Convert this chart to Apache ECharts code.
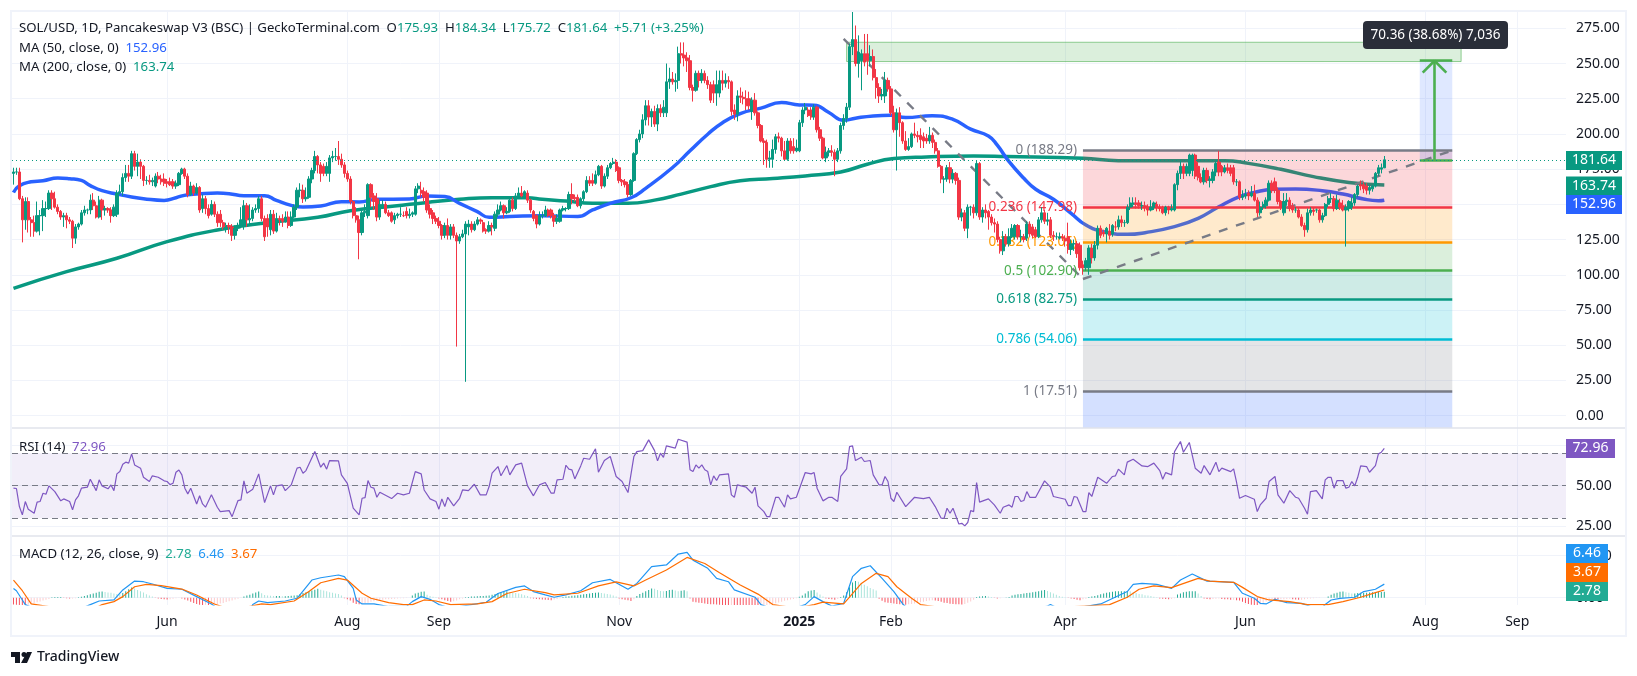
<!DOCTYPE html>
<html>
<head>
<meta charset="utf-8">
<title>SOL/USD</title>
<script src="https://cdn.jsdelivr.net/npm/echarts@6/dist/echarts.min.js"></script>
<style>
	html, body { margin: 0; padding: 0; background: #fff; }
	#chart { width: 1637px; height: 676px; }
</style>
</head>
<body>
<div id="chart"></div>
<script>
const FONT = '"Noto Sans", sans-serif'

// 日线，从 2024-04-10 开始，每行 10 根
const opens = [
	172,173,173,154,139,152,139,137,131,142,
	142,147,147,158,154,148,145,141,142,139,
	138,126,134,136,144,146,146,153,149,141,
	153,146,147,146,142,143,158,159,169,172,
	170,186,177,180,177,167,167,166,163,170,
	168,168,166,166,166,163,164,172,175,170,
	157,163,158,162,147,154,147,143,150,143,
	143,137,133,135,134,128,133,135,135,149,
	139,140,146,147,154,140,140,132,143,131,
	140,140,138,141,135,141,148,160,160,154,
	155,168,174,184,178,177,172,172,183,184,
	184,182,178,172,168,152,142,139,130,144,
	142,164,156,154,141,148,150,144,144,139,
	142,143,142,145,142,143,143,161,160,159,
	158,147,144,140,138,135,128,135,128,134,
	128,124,127,129,134,136,132,136,139,137,
	132,131,135,133,143,146,149,144,145,153,
	147,156,158,156,158,153,145,142,136,142,
	142,146,146,142,138,138,146,147,147,157,
	155,155,149,154,159,167,167,165,171,177,
	163,170,176,179,180,176,167,166,164,157,
	167,186,196,200,210,220,212,216,207,218,
	215,215,237,239,237,238,257,256,254,252,
	233,231,243,238,243,238,235,235,229,229,
	238,236,238,237,217,214,227,226,225,225,
	216,224,215,206,195,194,182,182,189,198,
	197,188,182,195,191,188,188,208,217,217,
	217,212,219,203,197,183,187,188,187,182,
	188,206,211,219,262,267,250,252,257,257,
	252,255,240,233,227,227,238,232,215,203,
	215,208,195,189,191,200,199,199,198,197,
	195,199,194,188,177,168,168,176,168,172,
	167,141,144,133,148,148,144,179,141,146,
	145,141,137,136,125,117,127,122,127,127,
	135,127,127,126,136,134,132,127,139,144,
	138,139,128,127,126,127,126,127,118,122,
	122,121,107,105,105,119,112,121,133,130,
	129,131,129,134,134,139,137,137,148,150,
	151,151,149,149,148,146,148,150,148,147,
	144,148,146,146,164,172,177,172,172,174,
	185,177,169,166,174,167,167,173,180,177,
	173,176,176,176,166,166,155,156,158,156,
	158,153,144,148,149,153,165,166,160,152,
	144,152,153,149,146,146,141,135,132,144,
	146,146,146,139,142,150,154,154,147,151,
	149,146,147,148,151,157,164,164,163,160,
	161,163,172,175,175.93
]
const closes = [
	173,173,154,139,152,139,137,131,142,142,
	147,147,158,154,148,145,141,142,139,138,
	126,134,136,144,146,146,153,149,141,153,
	146,147,146,142,148,158,159,169,172,170,
	186,177,180,177,167,167,166,167,170,168,
	166,165,165,164,163,165,172,175,170,157,
	163,158,162,146,154,147,142,150,143,137,
	137,134,135,134,128,133,135,139,149,139,
	140,146,147,154,140,127,134,143,131,140,
	139,138,141,135,141,148,160,160,154,155,
	168,174,184,178,172,172,177,183,184,184,
	182,178,172,168,152,142,139,130,144,145,
	164,155,152,141,150,150,144,142,138,142,
	143,143,142,142,143,144,161,163,158,155,
	146,143,140,138,135,128,135,128,134,128,
	124,127,129,136,136,132,136,139,138,131,
	131,135,134,143,146,149,144,145,153,147,
	156,158,156,159,153,146,140,136,142,142,
	146,142,142,138,140,146,147,147,157,154,
	154,149,154,159,167,165,165,171,177,163,
	170,176,179,180,174,167,166,164,157,167,
	186,196,200,210,220,212,216,207,218,215,
	219,237,239,237,238,257,256,254,252,233,
	231,243,238,243,238,235,224,229,235,238,
	236,238,237,216,214,227,226,225,220,220,
	224,215,206,195,194,182,183,189,198,197,
	188,182,195,188,188,190,208,217,219,213,
	212,219,203,197,183,187,188,187,182,188,
	206,211,219,262,267,250,258,257,251,252,
	255,240,233,227,228,238,232,215,203,215,
	208,195,189,191,200,199,198,196,195,195,
	199,194,188,177,168,168,176,168,172,167,
	141,144,133,148,148,144,179,141,146,144,
	141,137,136,125,117,127,122,127,133,135,
	127,127,125,136,129,128,127,139,144,138,
	139,128,127,127,127,126,124,118,122,122,
	115,105,105,110,119,112,121,133,128,129,
	133,128,135,134,139,137,137,148,151,151,
	150,149,149,148,146,148,151,148,147,144,
	148,146,147,164,172,177,172,177,185,185,
	170,169,166,174,167,168,173,179,173,173,
	176,174,172,166,166,155,156,157,156,158,
	153,144,148,150,153,165,160,160,152,148,
	152,153,147,146,146,141,135,132,144,146,
	145,146,139,142,150,154,154,147,153,148,
	146,148,152,151,157,163,163,161,160,162,
	163,172,176,176,181.64
]
const lows = [
	164,171,153,123,132,130,127,127,130,128,
	131,141,146,146,147,143,139,134,133,136,
	119,122,132,135,142,143,143,146,140,140,
	139,142,144,137,141,141,157,156,166,166,
	168,174,170,168,163,164,164,163,162,165,
	164,163,162,163,161,161,163,171,168,155,
	156,156,157,144,144,143,140,142,141,134,
	134,132,130,129,124,125,131,133,132,134,
	135,138,144,144,138,124,127,128,129,130,
	135,134,137,133,134,140,146,155,151,152,
	154,165,172,172,166,170,170,166,180,181,
	178,176,169,166,150,140,137,111,128,141,
	140,148,146,138,139,147,143,141,137,136,
	140,141,141,140,140,141,142,158,155,152,
	144,140,136,136,133,125,126,125,125,126,
	49,122,126,24,128,130,131,135,136,130,
	129,130,128,131,141,145,140,143,144,145,
	146,155,155,155,151,144,138,133,135,140,
	141,141,140,134,136,137,145,145,146,150,
	152,148,147,152,158,163,163,164,170,161,
	162,168,175,178,173,165,163,162,155,156,
	166,185,194,197,206,206,205,205,202,212,
	212,212,232,235,230,232,250,248,244,231,
	223,230,233,236,236,232,222,222,220,226,
	231,233,232,213,210,209,222,221,217,217,
	210,213,204,194,178,176,176,176,186,194,
	184,181,181,186,186,187,187,205,214,212,
	210,210,201,195,182,180,184,184,170,180,
	186,203,208,217,256,248,240,231,248,242,
	248,238,225,222,224,222,230,213,201,174,
	198,193,188,188,190,197,194,190,190,193,
	193,190,186,176,165,158,166,165,165,164,
	139,138,131,126,142,140,142,139,137,140,
	132,135,130,123,115,114,120,120,126,125,
	125,123,123,124,127,126,126,126,137,136,
	135,126,124,125,125,124,120,115,114,117,
	112,103,100,103,100,108,110,118,126,127,
	123,125,127,131,132,134,134,136,146,148,
	147,147,146,145,142,145,146,145,145,143,
	142,143,145,145,160,168,168,170,170,170,
	168,167,165,164,165,162,165,170,170,170,
	172,172,170,164,163,153,153,154,153,155,
	152,141,142,146,147,152,158,158,150,146,
	142,149,145,144,144,140,134,127,130,142,
	142,144,137,137,141,148,151,145,146,146,
	145,120,145,146,149,155,160,158,157,157,
	159,162,170,172,175.72
]
const highs = [
	176,176,176,156,155,155,141,142,152,146,
	153,152,160,160,159,150,146,144,144,141,
	139,136,137,146,149,147,157,158,152,156,
	154,149,148,148,150,160,164,172,178,178,
	188,188,186,182,178,170,171,169,172,173,
	171,172,168,169,168,167,173,176,176,172,
	166,164,165,163,157,156,150,153,152,145,
	146,139,137,137,136,135,137,148,153,151,
	150,148,150,156,156,142,143,146,146,144,
	142,143,145,145,145,150,162,165,164,162,
	170,176,188,185,180,179,180,185,188,190,
	195,186,180,174,170,153,148,142,146,150,
	165,165,158,158,153,153,152,146,145,144,
	144,148,145,148,147,145,163,165,166,162,
	160,150,146,142,141,136,137,140,136,136,
	130,129,132,138,139,138,138,141,140,139,
	133,138,137,145,150,152,150,148,155,155,
	158,162,163,160,160,154,146,143,145,145,
	149,147,147,144,143,147,149,148,159,165,
	157,157,155,160,170,170,172,174,178,178,
	172,178,180,183,182,177,168,168,166,168,
	187,197,203,214,224,224,218,220,221,221,
	224,250,247,244,243,262,265,265,258,256,
	235,245,245,246,245,241,237,238,245,245,
	245,243,241,238,221,231,233,230,231,230,
	226,229,216,207,197,196,188,196,200,201,
	198,195,197,197,197,196,210,219,222,219,
	219,221,220,205,198,191,190,192,189,190,
	208,214,222,264,287,277,270,260,271,271,
	263,260,246,236,232,244,240,234,220,218,
	219,209,202,197,201,208,202,204,201,200,
	205,201,196,190,178,170,178,180,175,173,
	169,147,146,150,149,150,181,180,148,150,
	146,143,140,138,127,131,129,133,136,136,
	136,132,129,138,138,136,134,141,148,146,
	144,141,131,130,130,129,128,137,125,125,
	124,123,110,112,121,122,124,135,135,132,
	134,136,136,138,142,142,139,150,155,155,
	155,153,152,152,150,153,152,152,150,149,
	149,149,150,165,174,181,179,179,186,186,
	186,180,172,176,176,170,175,181,188,178,
	178,179,178,178,168,167,160,161,160,163,
	164,155,152,152,155,167,167,169,162,153,
	158,158,155,151,148,148,143,137,147,148,
	148,147,147,144,151,156,158,156,157,154,
	153,150,153,155,158,164,167,166,165,164,
	164,173,178,179,184.34
]

// 折线都是 [日序号, 数值]
const ma50 = [
	[0,158.5],[2,163.3],[6,166],[10,166.8],[15,168.7],[19,168.2],[23,167],[26,163.3],[30,159.7],[35,157.3],
	[40,155.2],[44,154],[51,152.8],[55,154.7],[59,156.9],[62,157.3],[69,158],[73,157.6],[78,156.2],[85,156.2],
	[89,152.8],[94,149.3],[98,148.1],[104,148.8],[111,151.9],[117,151.7],[123,153.6],[134,153.8],[140,156],[146,155.5],
	[151,150.7],[157,144.8],[161,140.8],[168,141.3],[179,142],[191,141.3],[196,146],[202,150.7],[209,154.7],[214,161.4],
	[223,176],[229,188],[235,199.8],[240,208],[246,214.5],[253,218.3],[260,222.3],[266,220.6],[271,220.4],[276,215.2],
	[281,209.7],[285,211.2],[291,212.8],[297,213.3],[302,211.6],[311,213],[318,210.4],[324,203.4],[330,198.6],[333,192],
	[337,180.3],[342,168.5],[346,160.7],[352,153.6],[358,143.6],[363,135.3],[369,130.6],[377,128.7],[383,129.9],[393,134.2],
	[401,140.1],[408,148.3],[415,155.5],[420,158.5],[427,160.7],[434,160.9],[443,159.7],[450,157.3],[457,153.8],[462,152.6],[464,152.96]
]
const ma200 = [
	[0,90.4],[18,102.2],[35,111.7],[52,123.5],[69,131.8],[86,137],[103,140.8],[114,145.5],[129,148.8],[140,151.4],
	[151,153.6],[162,154.7],[174,154.7],[179,153.6],[187,152.4],[196,150.7],[208,150.7],[217,153],[226,157.3],[236,162.6],
	[246,166.7],[257,168.3],[268,170.2],[280,173],[289,178.5],[298,182.5],[309,183.7],[325,184.4],[336,184],[362,182.7],
	[374,181],[389,181],[410,181],[418,179.1],[429,174.9],[440,169.7],[452,165.6],[464,163.74]
]
const rsi = [
	[0,48.5],[1,48.3],[2,37.2],[3,32.1],[4,40.3],[5,35.6],[7,33.1],[8,39.9],[9,40.3],[10,45.4],[11,44.8],[12,49.9],[14,46.4],[16,40.7],[17,41.9],[19,40.3],
	[20,35.2],[21,41.3],[22,43.8],[23,48.5],[25,49.1],[26,54],[28,47],[29,53.6],[30,49.9],[32,48.1],[33,50.5],[34,47],[35,57.3],[36,58.7],[37,63.2],[38,64.5],
	[39,63.9],[40,69.6],[41,62.8],[43,60.8],[44,55.2],[46,52.6],[47,56.1],[49,55.2],[51,53],[52,52.6],[53,50.7],[54,51.5],[55,58.3],[56,59.7],[57,56.7],[58,48.5],
	[59,45],[60,48.5],[62,38.8],[63,43.8],[64,38.8],[65,36.8],[67,44.4],[69,36.8],[70,34.1],[73,34.7],[74,31],[76,40.9],[77,41.3],[78,53],[79,45.4],[81,47.9],
	[83,57.3],[84,48.5],[85,39.6],[87,49.9],[88,44.4],[89,49.9],[91,50.5],[92,47],[94,50.5],[96,60.8],[97,61.4],[98,57.7],[99,59.3],[102,71],[104,61.4],[105,63.9],
	[106,60.2],[107,65.5],[110,65.3],[111,56.7],[113,51.5],[115,36.2],[117,32.1],[118,42.3],[119,42.7],[120,53.2],[121,49.1],[122,48.5],[123,42.9],[124,46],[128,42.1],[130,45.4],
	[132,44.4],[134,45.4],[136,58.7],[138,57.3],[139,47.4],[141,41.9],[143,40.3],[144,35.6],[145,41.9],[146,37.2],[147,42.9],[149,37.6],[151,42.3],[152,47.4],[154,47],[156,50.9],
	[158,44.4],[160,44.4],[161,49.5],[162,57.7],[164,61.8],[165,56.1],[167,62.4],[168,56.7],[170,62.8],[172,63.9],[174,49.9],[176,43.8],[178,50.5],[180,52],[182,45.4],[183,45.4],
	[184,53.6],[186,54],[187,62.6],[188,60.2],[189,59.8],[190,54.2],[192,62.2],[193,66.9],[195,66.3],[197,72.7],[198,58.3],[200,65.5],[202,68],[204,55.7],[206,52.6],[208,45.8],
	[210,68],[211,71],[213,71.6],[215,78.2],[217,71.6],[218,65.3],[219,70],[220,67.5],[221,74.5],[224,73.1],[225,78.6],[228,76.8],[229,59.8],[230,58.7],[231,62.8],[232,60.8],
	[233,62.8],[234,59.8],[235,58.7],[236,50.5],[237,56.1],[238,53.2],[239,56.7],[242,57.3],[243,44.4],[244,42.9],[245,50.5],[248,49.1],[250,45.4],[251,49.1],[252,37.6],[254,34.1],
	[255,31],[256,31],[258,42.9],[259,42.9],[261,36.8],[262,44.4],[263,41.9],[265,42.9],[268,58.1],[270,57.3],[271,58.1],[272,48.5],[274,40.7],[276,42.9],[277,42.9],[279,40.3],
	[280,55.7],[282,60.4],[283,74.1],[284,74.5],[285,65.5],[287,67.5],[288,64.9],[290,65.5],[291,56.7],[293,50.5],[294,50.5],[295,55.7],[296,52.6],[297,42.3],[298,40.3],[299,46],
	[302,37.2],[305,42.9],[308,42.1],[310,42.9],[312,37.2],[314,30],[315,30],[316,36.2],[317,33.1],[318,36.2],[320,26.5],[321,26.9],[322,25.3],[323,27.4],[324,34.7],[325,34.1],
	[326,52],[327,39.9],[330,41.9],[332,38.2],[334,33.1],[335,36.8],[337,38.2],[338,36.8],[339,43.4],[340,43.4],[341,40.3],[342,40.9],[343,46.4],[344,42.9],[346,42.9],[349,53],
	[351,49.1],[352,43.4],[356,41.7],[357,37.8],[358,37.8],[359,43.4],[360,42.9],[362,34.1],[363,34.1],[364,45.8],[365,43.4],[367,55.2],[370,51.5],[372,55.7],[373,56.1],[374,60.2],
	[376,56.7],[377,64.5],[379,66.3],[382,62.2],[384,61.8],[386,63.9],[388,59.3],[389,54],[390,58.1],[392,56.7],[393,71],[395,77.2],[396,70.6],[398,76.6],[400,60.8],[402,57.7],
	[403,62.4],[405,56.7],[407,64.5],[408,58.7],[409,60.8],[412,58.7],[413,60.4],[414,52],[415,42.3],[417,44],[420,41.7],[421,34.1],[422,38.2],[424,42.3],[425,52.6],[427,55.7],
	[428,44.4],[430,39.3],[432,47],[434,42.9],[435,42.3],[437,36.2],[438,32.5],[439,46.4],[441,47],[443,41.9],[444,53.6],[445,55.2],[446,55.2],[447,48.5],[448,53.2],[450,53.2],
	[451,48.5],[452,49.1],[453,52.6],[454,49.9],[455,55.2],[456,62.2],[458,61.8],[459,58.3],[461,62.4],[462,69.6],[463,70.6],[464,72.96]
]
const macdLine = [
	[0,4.4],[1,3.3],[3,-1.1],[4,-3.3],[15,-10],[26,-3.3],[29,-1.6],[34,-1.1],[37,3.7],[41,7.9],[44,7.6],[47,6.5],[52,4.4],[57,4],[62,0.5],[67,-3],[70,-5.9],[80,-5.9],
	[81,-3.3],[83,-1.6],[86,-2.4],[92,-1.6],[96,-0.3],[101,8.4],[104,9.5],[110,10.8],[112,10],[115,4.4],[116,-1.1],[118,-3],[122,-3],[127,-4.2],[133,-4.2],[135,-1.9],[138,0.5],[141,-0.8],
	[144,-3.3],[148,-5],[155,-3.3],[160,-2.2],[164,2],[170,4.9],[173,5.6],[176,2.9],[180,1.3],[183,0.2],[187,1.3],[192,3.3],[196,7.1],[202,8.7],[208,4],[211,6.8],[216,14.8],[221,15.6],
	[225,20.8],[228,21.6],[230,17.9],[235,14],[238,9.2],[242,7.6],[244,3.7],[251,0.2],[253,-3.3],[260,-7],[268,-3.3],[271,0.5],[274,-1.9],[277,-4],[281,-2.7],[284,10],[287,14],[290,15.2],
	[294,9.2],[298,2.9],[301,-3],[304,-7],[310,-9],[330,-11],[350,-4],[351,-3.3],[355,-6],[368,-3],[377,2.9],[379,6.3],[382,6.8],[387,6.3],[392,4.4],[395,8.4],[399,11.3],[404,7.9],
	[413,7.3],[416,2.1],[420,-0.3],[422,-2.7],[424,-3],[427,-0.8],[431,-2.4],[436,-2.7],[438,-3.7],[442,-5.9],[444,-3.3],[446,-1.1],[449,-0.3],[454,0.2],[457,2.9],[461,4],[464,6.46]
]
const macdSignal = [
	[0,8.4],[3,3.3],[6,-3],[25,-7],[30,-3.3],[34,-1.9],[37,0.5],[41,5.2],[45,6.3],[50,5.7],[57,4.1],[62,1.3],[68,-3],[74,-5.9],[84,-3],[87,-3.3],[95,-1.6],[100,2.9],
	[104,7.1],[110,9.2],[113,8.4],[118,2.1],[121,-0.3],[127,-2.4],[132,-3.3],[135,-3.3],[139,-1.1],[143,-1.6],[148,-3.3],[157,-3],[162,-1.9],[167,2],[173,4],[180,2.4],[183,1.3],[191,2.1],
	[198,5.6],[204,7.5],[210,5.6],[214,8.4],[221,13.2],[228,19.2],[234,16.3],[239,11.9],[246,6],[252,1.7],[257,-3.3],[265,-5],[271,-3.3],[274,-2.1],[281,-3],[287,6.8],[292,11.6],[296,10],
	[299,5.2],[304,-0.3],[307,-3.3],[330,-8],[350,-5],[371,-3.3],[377,0.2],[381,4],[386,5.6],[392,4.8],[401,9.2],[405,7.9],[413,7.3],[416,4.9],[421,0.5],[425,-1.1],[432,-1.9],[438,-3.3],
	[445,-3.3],[450,-1.9],[456,0.2],[461,2.4],[464,3.67]
]
const macdHist = [
	-3.3,-3.4,-3.5,-3.6,-3.7,-3.4,-3,-2.6,-2.2,-1.8,-1.4,-1,-0.6,
	0.2,0.3,0.3,0.3,-0.2,-0.3,-0.4,-0.4,-0.3,0.2,
	0.4,0.8,1.2,1.6,2,2.4,2.8,2.9,2.7,2.5,2.3,2,1.8,1.6,
	2.2,3,4,4.8,4.4,3.6,3,2.5,1.6,1,0.5,
	-0.2,-0.4,-0.6,-0.8,-0.9,-0.7,-0.5,-0.3,-0.2,-0.4,
	-0.9,-1.4,-2,-2.6,-3,-3.4,-3.6,-3.4,-3.6,-3.2,
	-3.2,-3,-2.8,-2.5,-2.1,-1.7,-1.3,-0.9,-0.5,-0.2,
	0.5,1,1.4,2,2.5,2.9,2.1,1.3,1,0.9,0.8,0.8,0.8,0.7,0.7,0.8,0.9,1,
	1.2,1.8,2.2,2.6,3,3.4,3.8,4.2,3.8,3.4,3,2.6,2.4,2,1.8,1,
	-0.3,-0.7,-1.4,-2.4,-3,-3.2,-2.9,-2.7,
	-2.4,-2,-1.7,-1.4,-1.2,-1,-0.8,-0.7,-0.6,-0.5,-0.4,-0.3,-0.3,-0.2,-0.1,
	1,2,2.4,2.8,2.9,1.4,0.8,0.4,0.2,
	-0.4,-0.8,-1.2,-1.6,-2,-1.7,-1.3,-0.8,
	-0.4,0.2,0.3,0.5,0.6,0.7,0.8,0.8,0.9,1,
	1.4,1.8,2.2,2.6,2.9,3,2.6,2.4,2.2,2,1.6,1.2,0.8,
	-0.3,-0.4,-0.6,-0.8,-0.9,-1,-1.1,-1.2,-0.9,-0.6,-0.3,
	0.3,0.5,0.7,0.9,1,1.2,1.4,1.6,1.8,2,2.2,2.4,2.5,2.2,2,1.8,1.5,1,0.5,
	-0.4,-0.7,-1,-1.2,-1.6,-0.8,
	0.8,1.8,2.4,3,3.6,4.4,4.2,3.6,3.2,3,3.2,3.6,3.8,3.4,3,3.3,3.5,3,
	-0.4,-2,-2.2,-2.4,-2.6,-2.8,-3,-3.1,-3.2,-3.3,-3.4,-3.5,-3.6,-3.7,
	-3.7,-3.8,-3.9,-4,-4.1,-4.2,-4.3,-4.4,-4.5,-4.6,
	-4.2,-3.9,-3.6,-3.3,-3,-2.7,-2.3,-1.9,-1.5,-1.2,-0.9,-0.6,-0.3,
	0.4,1,2,3,3.4,3.6,2.5,1.5,0.6,
	-0.4,-0.6,-0.8,-1,-0.6,0.3,
	1,2.6,5,7.2,8,7.6,7,6.2,5.4,4.6,4,3.4,
	-0.5,-1.5,-2.2,-2.4,-2.6,-2.8,-3,-3.2,-3.3,-3.4,
	-3.2,-3,-2.8,-2.5,-2.2,-1.9,-1.6,-1.4,-1.2,-1.4,
	-1.6,-2,-2.4,-2.6,-2.9,-3,-3.1,-3.2,-3.3,-3,
	-2.4,-1.8,-1,
	0.3,0.5,0.7,0.8,0.6,0.3,
	-0.2,-0.4,-0.3,-0.1,0.1,0.3,
	1,1.4,1.6,1.8,2,2.2,2.4,2.6,2.8,3,3.4,3.6,
	3.2,2.6,2,1.4,0.8,0.4,0.2,
	-0.2,-0.4,-0.6,-1,-1.2,-0.8,-0.5,0.3,0.6,
	0.8,1.2,1.6,2,2.4,2.6,2.8,3,3,3.1,3.1,3.2,
	3,2.6,2.2,1.8,1.6,1.2,1,0.8,0.4,0.2,
	-0.4,-0.5,-0.6,-0.7,-0.6,-0.3,
	1.5,2,2.6,2.8,3,3,3.1,2,0.8,
	-0.4,-0.6,-0.7,-0.6,-0.5,-0.4,-0.6,-0.7,-0.8,-1,-1,-1.2,
	-1.4,-2,-2.6,-3,-3.4,-3.5,-3.6,-3.3,-2.4,-1.8,-1.2,
	-0.6,-0.7,-0.8,-0.8,-0.7,-0.6,-0.5,-0.7,-0.9,-1,-1,-0.8,-0.5,-0.4,-0.3,-0.2,-0.2,-0.1,-0.1,
	0.6,1.4,2,2.4,2.8,2.9,2.6,2.4,2,2,2.2,
	2.3,2.4,2.4,2.5,2.6,2.6,2.7,2.7,2.78
]

// 斐波那契回撤
const fibNames = ['0', '0.236', '0.382', '0.5', '0.618', '0.786', '1']
const fibPrices = [188.29, 147.98, 123.05, 102.9, 82.75, 54.06, 17.51]
const fibColors = ['#787b86', '#f23645', '#ff9800', '#4caf50', '#089981', '#00bcd4', '#787b86']
const fibFills = ['rgba(242,54,69,0.2)', 'rgba(255,152,0,0.2)', 'rgba(76,175,80,0.2)', 'rgba(8,153,129,0.2)', 'rgba(0,188,212,0.2)', 'rgba(120,123,134,0.2)', 'rgba(41,98,255,0.2)']

// 时间轴刻度
const tickDays = [52, 113, 144, 205, 266, 297, 356, 417, 478, 509]
const tickLabels = ['Jun', 'Aug', 'Sep', 'Nov', '2025', 'Feb', 'Apr', 'Jun', 'Aug', 'Sep']
const priceTicks = [0, 25, 50, 75, 100, 125, 150, 175, 200, 225, 250, 275]
const rsiTicks = [25, 50, 75]
const macdTicks = [0, 20]

const days = Array.from({ length: 526 }, (_, i) => i)
const GRID_LINE = '#f0f3fa'
const UP = '#089981'
const DOWN = '#f23645'
const lastPrice = 181.64
const targetPrice = 252

const candles = opens.map((o, i) => [o, closes[i], lows[i], highs[i]])

const hist = macdHist.map((v, i) => {
	const prev = i ? macdHist[i - 1] : 0
	let color
	if (v >= 0) {
		color = v >= prev ? '#22ab94' : '#ace5dc'
	} else {
		color = v < prev ? '#f7525f' : '#fccbcd'
	}
	return { value: v, itemStyle: { color } }
})

const isTickDay = (index) => tickDays.includes(index)

const xAxisFor = (gridIndex, showLabel) => ({
	type: 'category',
	gridIndex,
	data: days,
	boundaryGap: true,
	axisLine: { show: false },
	axisTick: { show: false },
	splitLine: { show: true, interval: isTickDay, alignWithLabel: true, lineStyle: { color: GRID_LINE, width: 1 } },
	axisLabel: {
		show: showLabel,
		interval: isTickDay,
		margin: 10,
		fontFamily: FONT,
		fontSize: 14,
		color: '#131722',
		formatter: (value) => {
			const text = tickLabels[tickDays.indexOf(Number(value))]
			return text === '2025' ? '{b|2025}' : text
		},
		rich: { b: { fontFamily: FONT, fontSize: 14, fontWeight: 'bold', color: '#131722' } }
	}
})

const yAxisFor = (gridIndex, min, max, ticks) => ({
	type: 'value',
	gridIndex,
	position: 'right',
	min,
	max,
	scale: true,
	axisLine: { show: false },
	axisTick: { show: false, customValues: ticks },
	splitLine: { show: true, lineStyle: { color: GRID_LINE, width: 1 } },
	axisLabel: {
		customValues: ticks,
		margin: 10,
		fontFamily: FONT,
		fontSize: 14,
		color: '#131722',
		formatter: (value) => value.toFixed(2)
	}
})

const lineSeries = (name, data, color, width, xAxisIndex, z) => ({
	name,
	type: 'line',
	xAxisIndex,
	yAxisIndex: xAxisIndex,
	data,
	z,
	symbol: 'none',
	silent: true,
	lineStyle: { color, width }
})

const fibAreas = fibPrices.map((p, i) => [
	{ coord: [362, p], itemStyle: { color: fibFills[i] } },
	{ coord: [487, i < fibPrices.length - 1 ? fibPrices[i + 1] : -8.8] }
])

const fibLines = fibPrices.map((p, i) => [
	{
		coord: [362, p],
		lineStyle: { color: fibColors[i], width: 2.6, type: 'solid' },
		label: {
			show: true,
			position: 'start',
			distance: 6,
			fontFamily: FONT,
			fontSize: 13.5,
			color: fibColors[i],
			formatter: `${fibNames[i]} (${p.toFixed(2)})`
		}
	},
	{ coord: [487, p] }
])

const greenSeg = (a, b) => [
	{ coord: a, lineStyle: { color: '#4caf50', width: 2.6, type: 'solid' }, label: { show: false } },
	{ coord: b }
]

const dashSeg = (a, b) => [
	{ coord: a, lineStyle: { color: '#787b86', width: 2.4, type: [9, 9] }, label: { show: false } },
	{ coord: b }
]

const tag = (text, color, x0, x1, y0, y1) => [
	{ type: 'rect', shape: { x: x0, y: y0, width: x1 - x0, height: y1 - y0 }, style: { fill: color }, z: 90, silent: true },
	{
		type: 'text',
		z: 91,
		silent: true,
		style: { x: (x0 + x1) / 2, y: (y0 + y1) / 2, text, fill: '#fff', font: `14px ${FONT}`, align: 'center', verticalAlign: 'middle' }
	}
]

const legendText = (y, text, rich) => ({
	type: 'text',
	z: 80,
	silent: true,
	style: { x: 19, y, text, rich, verticalAlign: 'middle', font: `13px ${FONT}` }
})

const richStyle = (fill) => ({ fill, color: fill, fontFamily: FONT, fontSize: 13.2 })

const option = {
	animation: false,
	backgroundColor: '#fff',
	grid: [
		{ left: 12, top: 11, width: 1554, height: 417 },
		{ left: 12, top: 428, width: 1554, height: 108 },
		{ left: 12, top: 536, width: 1554, height: 69 }
	],
	xAxis: [xAxisFor(0, false), xAxisFor(1, false), xAxisFor(2, true)],
	yAxis: [
		yAxisFor(0, -8.8, 287.3, priceTicks),
		yAxisFor(1, 19.1, 85.5, rsiTicks),
		yAxisFor(2, -3.5, 29.4, macdTicks)
	],
	series: [
		{ ...lineSeries('MA 200', ma200, '#089981', 3.5, 0, 1), smooth: true },
		{ ...lineSeries('MA 50', ma50, '#2962ff', 3.5, 0, 1), smooth: true },
		{
			name: 'drawings',
			type: 'line',
			data: [],
			z: 2,
			silent: true,
			markArea: {
				silent: true,
				z: 2,
				data: [
					...fibAreas,
					[
						{ coord: [282, 265.1], itemStyle: { color: 'rgba(76,175,80,0.2)', borderColor: 'rgba(76,175,80,0.6)', borderWidth: 1 } },
						{ coord: [490, 251.4] }
					],
					[
						{ coord: [476, targetPrice], itemStyle: { color: 'rgba(41,98,255,0.15)' } },
						{ coord: [487, lastPrice] }
					]
				]
			},
			markLine: {
				silent: true,
				z: 2,
				symbol: 'none',
				data: [
					...fibLines,
					dashSeg([281, 267.5], [362, 97]),
					dashSeg([362, 97], [487, 188.29]),
					greenSeg([476, targetPrice], [487, targetPrice]),
					greenSeg([476, lastPrice], [487, lastPrice]),
					greenSeg([481, lastPrice], [481, targetPrice]),
					greenSeg([481, targetPrice], [477, 243.5]),
					greenSeg([481, targetPrice], [485, 243.5])
				]
			}
		},
		{
			name: 'SOL/USD',
			type: 'candlestick',
			data: candles,
			z: 3,
			silent: true,
			barWidth: 2.8,
			itemStyle: { color: UP, color0: DOWN, borderColor: UP, borderColor0: DOWN, borderWidth: 1 },
			markLine: {
				silent: true,
				z: 4,
				symbol: 'none',
				label: { show: false },
				lineStyle: { color: UP, type: [1, 3], width: 1 },
				data: [{ yAxis: lastPrice }]
			}
		},
		{
			...lineSeries('RSI', rsi, '#7e57c2', 1.2, 1, 3),
			markArea: {
				silent: true,
				z: 1,
				itemStyle: { color: 'rgba(126,87,194,0.1)' },
				data: [[{ yAxis: 70 }, { yAxis: 30 }]]
			},
			markLine: {
				silent: true,
				z: 2,
				symbol: 'none',
				label: { show: false },
				lineStyle: { color: '#787b86', type: [6, 4], width: 1 },
				data: [{ yAxis: 70 }, { yAxis: 50 }, { yAxis: 30 }]
			}
		},
		{
			name: 'Histogram',
			type: 'bar',
			xAxisIndex: 2,
			yAxisIndex: 2,
			data: hist,
			barWidth: 1,
			silent: true,
			z: 1
		},
		lineSeries('MACD', macdLine, '#2196f3', 1.2, 2, 2),
		lineSeries('Signal', macdSignal, '#ff6d00', 1.2, 2, 3)
	],
	graphic: [
		// 外框和分隔线
		{ type: 'rect', z: 70, silent: true, shape: { x: 11, y: 11, width: 1615, height: 625 }, style: { fill: 'none', stroke: '#f0f3fa', lineWidth: 2 } },
		{ type: 'line', z: 70, silent: true, shape: { x1: 12, y1: 428, x2: 1625, y2: 428 }, style: { stroke: '#e0e3eb', lineWidth: 1.5 } },
		{ type: 'line', z: 70, silent: true, shape: { x1: 12, y1: 536, x2: 1625, y2: 536 }, style: { stroke: '#e0e3eb', lineWidth: 1.5 } },
		// 图例
		legendText(28, '{t|SOL/USD, 1D, Pancakeswap V3 (BSC) | GeckoTerminal.com}  {t|O}{g|175.93}  {t|H}{g|184.34}  {t|L}{g|175.72}  {t|C}{g|181.64}  {g|+5.71 (+3.25%)}', { t: richStyle('#131722'), g: richStyle('#089981') }),
		legendText(48, '{t|MA (50, close, 0)}  {b|152.96}', { t: richStyle('#131722'), b: richStyle('#2962ff') }),
		legendText(67, '{t|MA (200, close, 0)}  {g|163.74}', { t: richStyle('#131722'), g: richStyle('#089981') }),
		legendText(447, '{t|RSI (14)}  {p|72.96}', { t: richStyle('#131722'), p: richStyle('#7e57c2') }),
		legendText(554, '{t|MACD (12, 26, close, 9)}  {g|2.78}  {b|6.46}  {o|3.67}', { t: richStyle('#131722'), g: richStyle('#22ab94'), b: richStyle('#2196f3'), o: richStyle('#ff6d00') }),
		// 右侧价格标签
		...tag('181.64', UP, 1566, 1622, 151, 170),
		...tag('163.74', UP, 1566, 1622, 176.5, 195),
		...tag('152.96', '#2962ff', 1566, 1622, 195, 214),
		...tag('72.96', '#7e57c2', 1566, 1615, 439, 458),
		...tag('6.46', '#2196f3', 1566, 1608, 544, 563),
		...tag('3.67', '#ff6d00', 1566, 1608, 563, 582),
		...tag('2.78', '#22ab94', 1566, 1608, 582, 601),
		// 测量提示框
		{ type: 'rect', z: 95, silent: true, shape: { x: 1363, y: 21, width: 145, height: 28, r: 4 }, style: { fill: '#2a2e39' } },
		{ type: 'text', z: 96, silent: true, style: { x: 1435.5, y: 35, text: '70.36 (38.68%) 7,036', fill: '#fff', font: `13.5px ${FONT}`, align: 'center', verticalAlign: 'middle' } },
		// TradingView 标志
		{ type: 'polygon', z: 80, silent: true, shape: { points: [[11, 652], [20, 652], [20, 663], [15, 663], [15, 657], [11, 657]] }, style: { fill: '#131722' } },
		{ type: 'circle', z: 80, silent: true, shape: { cx: 24, cy: 654.5, r: 2.5 }, style: { fill: '#131722' } },
		{ type: 'polygon', z: 80, silent: true, shape: { points: [[27, 652], [32, 652], [27, 663], [21, 663]] }, style: { fill: '#131722' } },
		{ type: 'text', z: 80, silent: true, style: { x: 37, y: 657, text: 'TradingView', fill: '#131722', font: `500 14px ${FONT}`, verticalAlign: 'middle' } }
	]
}

const chart = echarts.init(document.getElementById('chart'), null, { renderer: 'canvas' })
chart.setOption(option)
</script>
</body>
</html>
